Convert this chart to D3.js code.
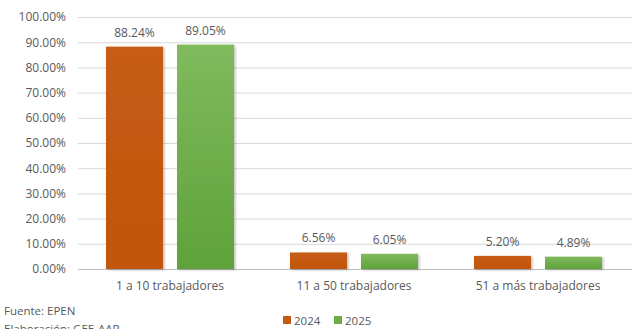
<!DOCTYPE html>
<html><head><meta charset="utf-8">
<script src="https://cdn.jsdelivr.net/npm/d3@7"></script>
<style>body{margin:0;background:#fff}svg text{font-family:"Open Sans","Noto Sans",sans-serif;fill:#595959}</style>
</head><body><svg id="c" width="632" height="329"></svg>
<script>
const categories = ["1 a 10 trabajadores","11 a 50 trabajadores","51 a más trabajadores"];
const seriesNames = ["2024","2025"];
const values2024 = [88.24, 6.56, 5.20];
const values2025 = [89.05, 6.05, 4.89];
const yTicks = [0,10,20,30,40,50,60,70,80,90,100];

const svg = d3.select("#c");
const defs = svg.append("defs");
const g1 = defs.append("linearGradient").attr("id","gOr").attr("x1",0).attr("y1",0).attr("x2",0).attr("y2",1);
g1.append("stop").attr("offset","0%").attr("stop-color","#C65C14");
g1.append("stop").attr("offset","100%").attr("stop-color","#C2560E");
const g2 = defs.append("linearGradient").attr("id","gGr").attr("x1",0).attr("y1",0).attr("x2",0).attr("y2",1);
g2.append("stop").attr("offset","0%").attr("stop-color","#80BA5D");
g2.append("stop").attr("offset","100%").attr("stop-color","#5FA23A");
const sh = defs.append("filter").attr("id","sh").attr("x","-10%").attr("y","-10%").attr("width","130%").attr("height","130%");
sh.append("feDropShadow").attr("dx",1.5).attr("dy",1).attr("stdDeviation",1).attr("flood-color","#000").attr("flood-opacity",0.25);

const x0 = d3.scaleBand().domain(categories).range([78,630]).paddingInner(0).paddingOuter(0);
const x1 = d3.scaleBand().domain(seriesNames).range([28,156]).paddingInner(14/71);
const y = d3.scaleLinear().domain([0,100]).range([269,17]);

const grid = svg.append("g");
grid.selectAll("line").data(yTicks).join("line")
  .attr("x1",78).attr("x2",632).attr("y1",d=>y(d)+0.5).attr("y2",d=>y(d)+0.5)
  .attr("stroke",d=>d===0?"#BFBFBF":"#D9D9D9").attr("stroke-width",1);

const yAxis = d3.axisLeft(y).tickValues(yTicks).tickFormat(d=>d.toFixed(2)+"%").tickSize(0).tickPadding(0);
const ya = svg.append("g").attr("transform","translate(66,0)").call(yAxis);
ya.select(".domain").remove();
ya.selectAll("text").attr("font-size","12px").style("font-family","'Open Sans','Noto Sans',sans-serif").attr("fill","#595959");

const data = categories.map((c,i)=>({c, vals:[{s:"2024",v:values2024[i]},{s:"2025",v:values2025[i]}]}));
const groups = svg.selectAll("g.grp").data(data).join("g").attr("class","grp")
  .attr("transform",d=>`translate(${x0(d.c)},0)`);
groups.selectAll("rect").data(d=>d.vals).join("rect")
  .attr("x",d=>x1(d.s)).attr("width",x1.bandwidth())
  .attr("y",d=>y(d.v)).attr("height",d=>y(0)-y(d.v))
  .attr("fill",d=>d.s==="2024"?"url(#gOr)":"url(#gGr)").attr("filter","url(#sh)");
groups.selectAll("text.val").data(d=>d.vals).join("text").attr("class","val")
  .attr("x",d=>x1(d.s)+x1.bandwidth()/2).attr("y",d=>y(d.v)-10)
  .attr("text-anchor","middle").attr("font-size","12px")
  .text(d=>d.v.toFixed(2)+"%");

const xAxis = d3.axisBottom(x0).tickSize(0).tickPadding(0);
const xa = svg.append("g").attr("transform","translate(0,284)").call(xAxis);
xa.select(".domain").remove();
xa.selectAll("text").attr("font-size","12px").attr("dy","0.5em").style("font-family","'Open Sans','Noto Sans',sans-serif").attr("fill","#595959");

svg.append("text").attr("x",4).attr("y",315).attr("font-size","11.5px").text("Fuente: EPEN");
svg.append("text").attr("x",4).attr("y",333).attr("font-size","11.5px").text("Elaboración: GEE-AAP");

const lg = svg.append("g").attr("transform","translate(283,316)");
const colors = {"2024":"#C55A11","2025":"#70AD47"};
const lx = [0,51];
seriesNames.forEach((s,i)=>{
  lg.append("rect").attr("x",lx[i]).attr("y",0).attr("width",8).attr("height",8).attr("fill",colors[s]);
  lg.append("text").attr("x",lx[i]+11).attr("y",8.5).attr("font-size","11.5px").text(s);
});
</script></body></html>
